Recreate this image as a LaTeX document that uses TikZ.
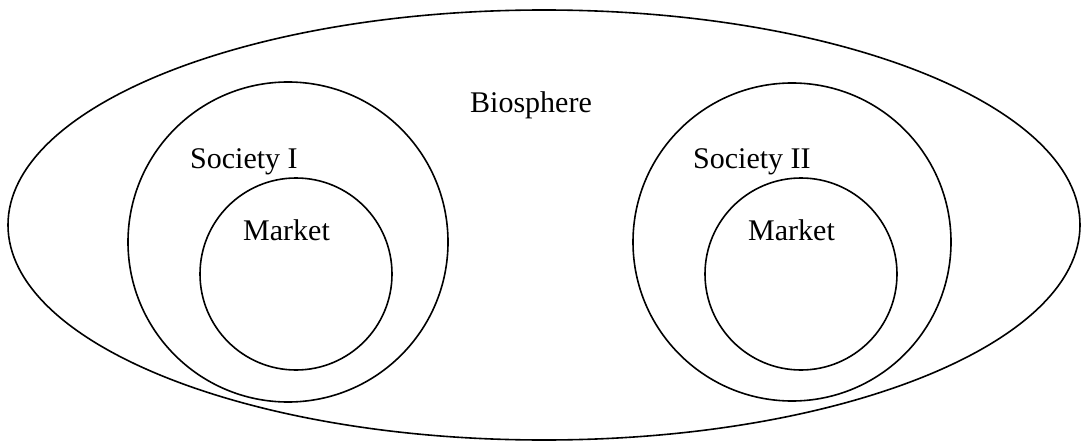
\documentclass[tikz,border=0pt]{standalone}
\usepackage{fontspec}
\setmainfont{Liberation Serif}
\begin{document}
\begin{tikzpicture}[x=1pt,y=-1pt,
  ring/.style={draw=black,line width=1.6pt},
  lbl/.style={anchor=base west,inner sep=0pt,font=\fontsize{30}{36}\selectfont}]
\useasboundingbox (0,0) rectangle (1081,441);
\draw[ring] (544,225) ellipse [x radius=536, y radius=215];
\draw[ring] (288,242) circle [radius=160];
\draw[ring] (296,274) circle [radius=96];
\draw[ring] (792,242) circle [radius=159];
\draw[ring] (801,274) circle [radius=96];
\node[lbl] (bio) at (470,113) {Biosphere};
\node[lbl] (soc1) at (190,168) {Society I};
\node[lbl] (mk1) at (243,240) {Market};
\node[lbl] (soc2) at (693,168) {Society II};
\node[lbl] (mk2) at (748,240) {Market};
\end{tikzpicture}
\end{document}
